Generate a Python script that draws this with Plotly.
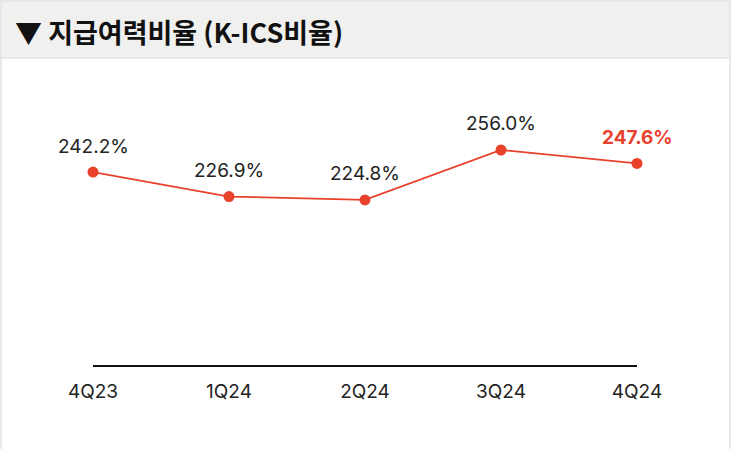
import plotly.graph_objects as go

# K-ICS solvency ratio by quarter
quarters = ['4Q23', '1Q24', '2Q24', '3Q24', '4Q24']
kics_ratio = [242.2, 226.9, 224.8, 256.0, 247.6]
value_labels = ['242.2%', '226.9%', '224.8%', '256.0%', '247.6%']

RED = '#e8412c'
W, H = 733, 449
ML, MR, MT, MB = 93, 96, 70, 84


def px_x(p):
    return (p - ML) / (W - ML - MR)


def px_y(p):
    return (H - MB - p) / (H - MT - MB)


fig = go.Figure()

fig.add_trace(go.Scatter(
    x=quarters, y=kics_ratio, mode='lines+markers',
    line=dict(color=RED, width=1.8),
    marker=dict(color=RED, size=11),
    cliponaxis=False, hoverinfo='skip', showlegend=False,
))

# value labels above points, last one highlighted
for i, (q, v, lab) in enumerate(zip(quarters, kics_ratio, value_labels)):
    last = i == len(quarters) - 1
    fig.add_annotation(
        x=q, y=v, text=f'<b>{lab}</b>' if last else lab,
        showarrow=False, yshift=26,
        font=dict(size=19, color=RED if last else '#222222'),
    )

# outer frame and grey title band
fig.add_shape(type='rect', xref='paper', yref='paper',
              x0=px_x(1), x1=px_x(730), y0=px_y(460), y1=px_y(1),
              line=dict(color='#e4e4e4', width=1.5), fillcolor='rgba(0,0,0,0)',
              layer='below')
fig.add_shape(type='rect', xref='paper', yref='paper',
              x0=px_x(1), x1=px_x(730), y0=px_y(58), y1=px_y(1),
              line=dict(color='#e4e4e4', width=1.5), fillcolor='#f0f0ef',
              layer='below')
fig.add_annotation(
    xref='paper', yref='paper', x=px_x(13), y=px_y(31),
    xanchor='left', yanchor='middle', showarrow=False,
    text='<b>▼ 지급여력비율 (K-ICS비율)</b>',
    font=dict(size=27, color='#111111',
              family='Noto Sans CJK KR, Inter, sans-serif'),
)

fig.update_layout(
    width=W, height=H,
    margin=dict(l=ML, r=MR, t=MT, b=MB),
    paper_bgcolor='white', plot_bgcolor='white',
    font=dict(family='Inter, Noto Sans CJK KR, sans-serif', color='#222222'),
    xaxis=dict(
        type='category', range=[0, 4], showgrid=False, zeroline=False,
        showline=True, linecolor='#111111', linewidth=1.5,
        ticks='outside', ticklen=8, tickcolor='rgba(0,0,0,0)',
        tickfont=dict(size=19, color='#222222'),
        fixedrange=True,
    ),
    yaxis=dict(range=[121.6, 306], visible=False, fixedrange=True),
)

fig.write_html('out.html', config={'displayModeBar': False},
               post_script="document.body.style.margin='0';")
